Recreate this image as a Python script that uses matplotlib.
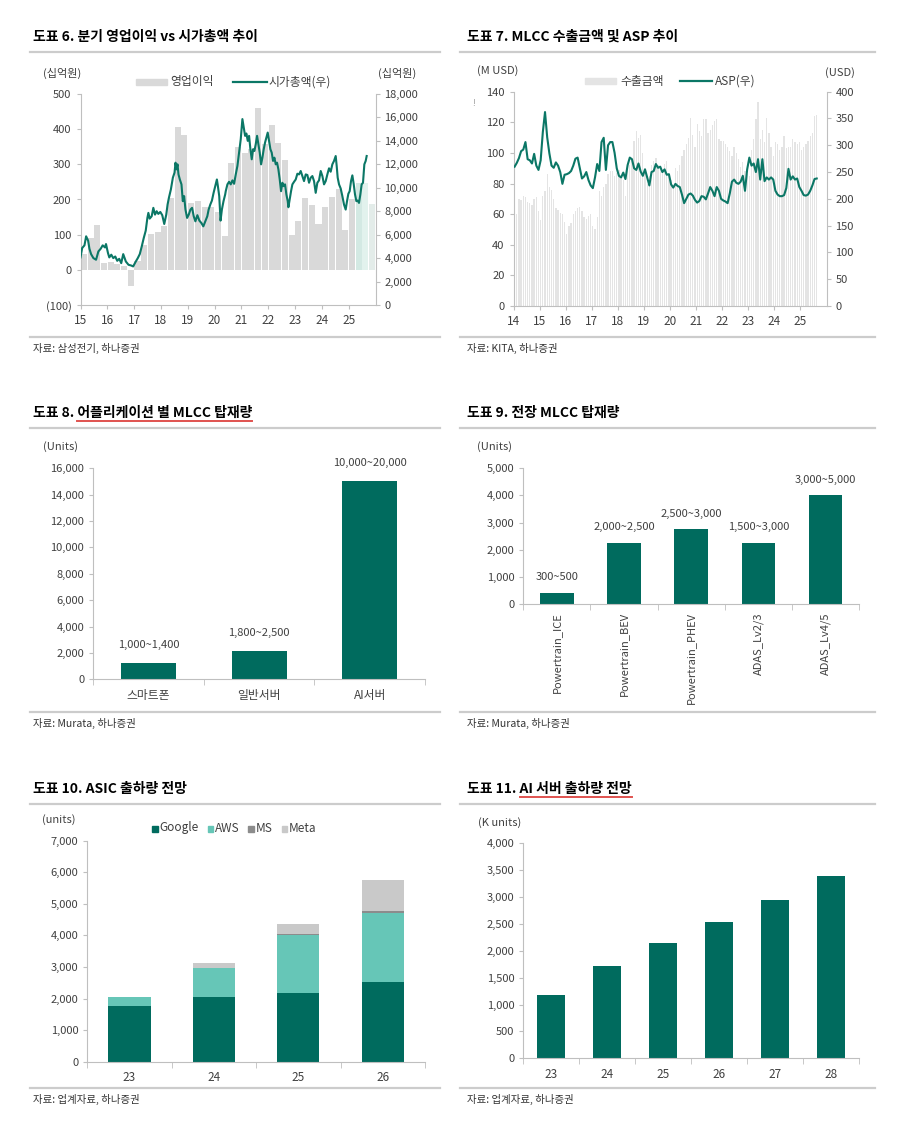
import matplotlib
matplotlib.use("Agg")
import matplotlib.pyplot as plt
from matplotlib.lines import Line2D
from matplotlib.patches import Rectangle
from matplotlib.ticker import FuncFormatter

plt.rcParams['font.family'] = ['Noto Sans CJK KR', 'DejaVu Sans']

# ---------------- data ----------------
# 도표 6: 분기 영업이익 (1Q15 ~ 4Q25, 십억원)
op_profit = [45, 90, 127, 20,
             22, 16, 12, -47,
             25, 70, 103, 107,
             125, 205, 405, 384,
             190, 197, 180, 178,
             165, 95, 303, 350,
             331, 345, 459, 359,
             411, 360, 311, 100,
             138, 205, 183, 131,
             179, 208, 230, 113,
             200, 246, 246, 188]
op_first_year = 15

# 시가총액 (십억원), x = 연도(2자리) 소수
mcap_x = [15.000, 15.062, 15.148, 15.210, 15.284, 15.333, 15.395, 15.481, 15.580, 15.667,
          15.753, 15.827, 15.914, 15.951, 16.025, 16.074, 16.148, 16.222, 16.296, 16.370,
          16.444, 16.519, 16.593, 16.667, 16.691, 16.790, 16.889, 16.963, 17.062, 17.136,
          17.210, 17.284, 17.358, 17.432, 17.494, 17.531, 17.580, 17.654, 17.716, 17.778,
          17.840, 17.901, 17.975, 18.049, 18.123, 18.198, 18.247, 18.296, 18.370, 18.444,
          18.506, 18.543, 18.580, 18.617, 18.654, 18.704, 18.765, 18.815, 18.864, 18.914,
          18.975, 19.037, 19.099, 19.160, 19.222, 19.284, 19.358, 19.432, 19.506, 19.580,
          19.654, 19.728, 19.778, 19.840, 19.901, 19.963, 20.025, 20.086, 20.123, 20.173,
          20.222, 20.272, 20.333, 20.395, 20.416, 20.478, 20.540, 20.602, 20.665, 20.727,
          20.789, 20.851, 20.913, 20.975, 21.037, 21.087, 21.137, 21.186, 21.236, 21.286,
          21.335, 21.385, 21.435, 21.484, 21.534, 21.584, 21.634, 21.683, 21.733, 21.783,
          21.832, 21.882, 21.932, 21.981, 22.031, 22.081, 22.130, 22.180, 22.230, 22.280,
          22.329, 22.379, 22.429, 22.478, 22.528, 22.578, 22.627, 22.677, 22.727, 22.752,
          22.801, 22.851, 22.901, 22.963, 23.025, 23.087, 23.149, 23.211, 23.273, 23.335,
          23.398, 23.460, 23.522, 23.584, 23.646, 23.708, 23.770, 23.832, 23.894, 23.957,
          24.019, 24.081, 24.143, 24.205, 24.267, 24.329, 24.391, 24.453, 24.516, 24.553,
          24.590, 24.640, 24.702, 24.764, 24.826, 24.888, 24.938, 24.988, 25.037, 25.087,
          25.137, 25.186, 25.236, 25.286, 25.335, 25.385, 25.435, 25.484, 25.534, 25.584,
          25.634, 25.671]
mcap_val = [4060, 4860, 5090, 5860, 5490, 4800, 4340, 4000, 3860, 4570,
            4800, 5090, 4910, 5200, 4430, 4060, 4290, 4000, 4140, 3770,
            3940, 3570, 4340, 3860, 3710, 3430, 3370, 3290, 3710, 4000,
            4340, 5000, 5710, 6340, 7430, 7860, 7370, 7570, 8290, 7710,
            8000, 7770, 7940, 7660, 6910, 7710, 8570, 9140, 9860, 10860,
            11290, 12140, 11570, 12000, 11140, 10710, 10290, 8860, 9290, 8140,
            7430, 7710, 8140, 8290, 7570, 7140, 7660, 7200, 7000, 6710,
            7140, 7570, 8140, 8570, 8910, 9570, 10140, 10710, 10140, 9290,
            7200, 8140, 8860, 9430, 9710, 10290, 10510, 10290, 10630, 10340,
            11140, 11860, 13000, 14140, 15860, 15140, 14430, 14630, 14000, 14430,
            13290, 12430, 13290, 13140, 13710, 14430, 13710, 13000, 12000, 12570,
            13290, 13860, 14290, 14710, 14000, 13290, 13000, 12290, 12570, 12000,
            12140, 11570, 10710, 9710, 10430, 10140, 10290, 9430, 8860, 8340,
            9000, 9710, 10290, 10510, 10710, 11200, 11140, 11430, 11000, 10570,
            11140, 11090, 10430, 10860, 11000, 10570, 9570, 10430, 10630, 11430,
            11000, 10290, 10570, 11140, 11660, 11370, 12000, 12290, 12710, 11860,
            10860, 10290, 9940, 9290, 8570, 8140, 8860, 9490, 9710, 10570,
            11060, 10340, 9430, 8860, 8910, 8710, 9430, 10290, 10430, 12000,
            12290, 12710]
year_labels_6 = ['15', '16', '17', '18', '19', '20', '21', '22', '23', '24', '25']

# 도표 7: 월별 MLCC 수출금액 (M USD) / ASP (USD), 2014.01 ~ 2025.08
export_first_year = 14
export_musd = [60, 60, 70, 69, 72, 71, 68, 67, 66, 70, 71, 62,
               56, 72, 75, 86, 78, 76, 70, 64, 63, 61, 60, 55,
               47, 52, 54, 60, 62, 64, 65, 62, 58, 57, 59, 60,
               52, 50, 58, 75, 72, 78, 80, 86, 88, 88, 85, 87,
               89, 84, 82, 72, 88, 92, 95, 108, 114, 110, 112, 100,
               90, 80, 85, 92, 95, 97, 92, 90, 88, 93, 95, 86,
               82, 78, 90, 88, 92, 98, 102, 106, 110, 123, 112, 104,
               119, 114, 111, 122, 122, 113, 115, 118, 121, 122, 109, 108,
               108, 106, 104, 101, 98, 104, 100, 96, 91, 94, 88, 86,
               85, 102, 109, 122, 133, 109, 115, 107, 123, 113, 104, 98,
               107, 106, 102, 104, 111, 103, 104, 104, 109, 107, 106, 107,
               102, 104, 106, 108, 111, 113, 124, 125]
asp_usd = [260, 267, 276, 289, 292, 306, 274, 272, 266, 284, 262, 254,
           272, 325, 362, 315, 285, 262, 258, 268, 262, 250, 228, 245,
           246, 248, 252, 262, 275, 277, 257, 238, 242, 250, 235, 225,
           220, 240, 265, 252, 306, 314, 254, 300, 306, 306, 286, 257,
           243, 240, 249, 237, 263, 277, 274, 257, 254, 266, 251, 243,
           255, 240, 225, 250, 252, 265, 258, 260, 250, 255, 245, 246,
           227, 221, 228, 224, 222, 208, 192, 200, 208, 210, 206, 198,
           193, 196, 205, 204, 199, 210, 222, 215, 205, 222, 215, 200,
           197, 195, 192, 210, 232, 236, 230, 228, 232, 243, 215, 255,
           277, 262, 266, 250, 274, 236, 274, 233, 240, 236, 240, 236,
           215, 208, 205, 205, 207, 220, 256, 236, 242, 236, 238, 222,
           215, 207, 206, 208, 215, 225, 237, 238]
year_labels_7 = ['14', '15', '16', '17', '18', '19', '20', '21', '22', '23', '24', '25']

# 도표 8
app_names = ['스마트폰', '일반서버', 'AI서버']
app_units = [1200, 2150, 15000]
app_ranges = ['1,000~1,400', '1,800~2,500', '10,000~20,000']

# 도표 9
auto_names = ['Powertrain_ICE', 'Powertrain_BEV', 'Powertrain_PHEV', 'ADAS_Lv2/3', 'ADAS_Lv4/5']
auto_units = [400, 2250, 2750, 2250, 4000]
auto_ranges = ['300~500', '2,000~2,500', '2,500~3,000', '1,500~3,000', '3,000~5,000']

# 도표 10
asic_years = ['23', '24', '25', '26']
asic_google = [1760, 2040, 2190, 2510]
asic_aws = [290, 940, 1820, 2190]
asic_ms = [0, 0, 30, 70]
asic_meta = [0, 150, 330, 980]

# 도표 11
server_years = ['23', '24', '25', '26', '27', '28']
server_kunits = [1180, 1720, 2150, 2530, 2940, 3400]

# ---------------- style ----------------
TEAL = '#006b5e'
LINE = '#0b7766'
GRAY_BAR = '#d9d9d9'
LIGHT_BAR = '#e4e4e4'
SPINE = '#bfbfbf'
TXT = '#404040'
RULE = '#cccccc'

W, H = 900, 1143
fig = plt.figure(figsize=(W / 100, H / 100), dpi=100)
comma = FuncFormatter(lambda v, p: f'{v:,.0f}')


def add_ax(x0, y0, x1, y1):
    return fig.add_axes([x0 / W, 1 - y1 / H, (x1 - x0) / W, (y1 - y0) / H])


def ftext(x, y, s, **kw):
    kw.setdefault('fontsize', 8)
    kw.setdefault('color', TXT)
    kw.setdefault('va', 'center')
    return fig.text(x / W, 1 - y / H, s, **kw)


def hline(x0, x1, y, color=RULE, lw=1.6):
    fig.add_artist(Line2D([x0 / W, x1 / W], [1 - y / H] * 2, color=color, lw=lw))


def header(x, y, prefix, title, rule_x, underline=False):
    t = ftext(x, y, prefix + title, fontsize=10, fontweight='bold', color='black')
    hline(rule_x[0], rule_x[1], y + 15)
    if underline:
        r = fig.canvas.get_renderer()
        p = ftext(x, y, prefix, fontsize=10, fontweight='bold', alpha=0)
        x0 = p.get_window_extent(r).x1
        x1 = t.get_window_extent(r).x1
        hline(x0, x1, y + 8, color='#e0524f', lw=1.4)


def footer(x, y, text, rule_x):
    hline(rule_x[0], rule_x[1], y - 11)
    ftext(x, y, text, fontsize=7.5, color='#333333')


def style(ax):
    for s in ['top', 'right']:
        ax.spines[s].set_visible(False)
    for s in ['left', 'bottom']:
        ax.spines[s].set_color(SPINE)
    ax.tick_params(colors=SPINE, labelcolor=TXT, labelsize=8, length=3, width=0.8)
    ax.set_facecolor('none')


def legend_patch(x0, x1, y, h, color):
    fig.add_artist(Rectangle((x0 / W, 1 - (y + h / 2) / H), (x1 - x0) / W, h / H,
                             color=color, transform=fig.transFigure))


def legend_line(x0, x1, y, color):
    fig.add_artist(Line2D([x0 / W, x1 / W], [1 - y / H] * 2, color=color, lw=1.6))


LEFT = (30, 440)
RIGHT = (460, 875)

# ---------------- 도표 6 ----------------
header(33, 37, '도표 6. ', '분기 영업이익 vs 시가총액 추이', LEFT)
ax = add_ax(80.5, 94, 375.5, 305)
style(ax)
op_x = [op_first_year + i * 0.25 + 0.125 for i in range(len(op_profit))]
op_colors = [GRAY_BAR] * (len(op_profit) - 3) + ['#d3e9e3', '#e2f2ed', '#e3ece9']
ax.bar(op_x, op_profit, width=0.225, color=op_colors, zorder=1)
ax.set_xlim(15, 26)
ax.set_ylim(-100, 500)
ax.set_yticks(range(-100, 501, 100))
ax.yaxis.set_major_formatter(FuncFormatter(lambda v, p: f'({abs(v):.0f})' if v < 0 else f'{v:.0f}'))
ax.set_xticks(range(15, 15 + len(year_labels_6)))
ax.set_xticklabels(year_labels_6, fontsize=8.5)
ax2 = ax.twinx()
for s in ['top', 'left', 'bottom']:
    ax2.spines[s].set_visible(False)
ax2.spines['right'].set_color(SPINE)
ax2.tick_params(colors=SPINE, labelcolor=TXT, labelsize=8, length=3, width=0.8)
ax2.plot(mcap_x, mcap_val, color=LINE, lw=1.5)
ax2.set_ylim(0, 18000)
ax2.set_yticks(range(0, 18001, 2000))
ax2.yaxis.set_major_formatter(comma)
ftext(43, 73, '(십억원)')
ftext(378, 73, '(십억원)')
legend_patch(136, 167, 82, 6, GRAY_BAR)
ftext(170, 82, '영업이익', fontsize=8.5)
legend_line(233, 267, 82, LINE)
ftext(268, 82, '시가총액(우)', fontsize=8.5)
footer(33, 348, '자료: 삼성전기, 하나증권', LEFT)

# ---------------- 도표 7 ----------------
header(467, 37, '도표 7. ', 'MLCC 수출금액 및 ASP 추이', RIGHT)
ax = add_ax(513.5, 91.7, 826.5, 306)
style(ax)
ex_x = [export_first_year + (i + 0.5) / 12 for i in range(len(export_musd))]
ax.bar(ex_x, export_musd, width=0.6 / 12, color=LIGHT_BAR, zorder=1)
ax.set_xlim(14, 26)
ax.set_ylim(0, 140)
ax.set_yticks(range(0, 141, 20))
ax.set_xticks(range(14, 14 + len(year_labels_7)))
ax.set_xticklabels(year_labels_7, fontsize=8.5)
ax2 = ax.twinx()
for s in ['top', 'left', 'bottom']:
    ax2.spines[s].set_visible(False)
ax2.spines['right'].set_color(SPINE)
ax2.tick_params(colors=SPINE, labelcolor=TXT, labelsize=8, length=3, width=0.8)
ax2.plot(ex_x, asp_usd, color=LINE, lw=1.5)
ax2.set_ylim(0, 400)
ax2.set_yticks(range(0, 401, 50))
ftext(477, 71, '(M USD)')
ftext(825, 73, '(USD)')
ftext(472, 104, '!', fontsize=6, color='#888888')
legend_patch(585, 616, 81, 6, LIGHT_BAR)
ftext(620, 81, '수출금액', fontsize=8.5)
legend_line(680, 712, 81, LINE)
ftext(715, 81, 'ASP(우)', fontsize=8.5)
footer(467, 348, '자료: KITA, 하나증권', RIGHT)

# ---------------- 도표 8 ----------------
header(33, 413, '도표 8. ', '어플리케이션 별 MLCC 탑재량', LEFT, underline=True)
ax = add_ax(93.3, 468.3, 425, 679.3)
style(ax)
ax.bar(range(len(app_units)), app_units, width=0.5, color=TEAL)
for i, (v, lbl) in enumerate(zip(app_units, app_ranges)):
    ax.annotate(lbl, (i, v), xytext=(0, 13), textcoords='offset points', ha='center',
                va='center', fontsize=8, color=TXT, annotation_clip=False)
ax.set_xlim(-0.5, len(app_units) - 0.5)
ax.set_ylim(0, 16000)
ax.set_yticks(range(0, 16001, 2000))
ax.yaxis.set_major_formatter(comma)
ax.set_xticks(range(len(app_names)))
ax.set_xticklabels(app_names, fontsize=8.5)
ax.set_xticks([i - 0.5 for i in range(len(app_names) + 1)], minor=True)
ax.tick_params(axis='x', which='major', length=0, pad=7)
ax.tick_params(axis='x', which='minor', length=4, color=SPINE)
ftext(43, 447, '(Units)')
footer(33, 723, '자료: Murata, 하나증권', LEFT)

# ---------------- 도표 9 ----------------
header(467, 413, '도표 9. ', '전장 MLCC 탑재량', RIGHT)
ax = add_ax(523.3, 468.3, 859, 604)
style(ax)
ax.bar(range(len(auto_units)), auto_units, width=0.5, color=TEAL)
for i, (v, lbl) in enumerate(zip(auto_units, auto_ranges)):
    ax.annotate(lbl, (i, v), xytext=(0, 11.3), textcoords='offset points', ha='center',
                va='center', fontsize=8, color=TXT, annotation_clip=False)
ax.set_xlim(-0.5, len(auto_units) - 0.5)
ax.set_ylim(0, 5000)
ax.set_yticks(range(0, 5001, 1000))
ax.yaxis.set_major_formatter(comma)
ax.set_xticks(range(len(auto_names)))
ax.set_xticklabels(auto_names, rotation=90, fontsize=8)
ax.set_xticks([i - 0.5 for i in range(len(auto_names) + 1)], minor=True)
ax.tick_params(axis='x', which='major', length=0, pad=6)
ax.tick_params(axis='x', which='minor', length=4, color=SPINE)
ftext(477, 447, '(Units)')
footer(467, 723, '자료: Murata, 하나증권', RIGHT)

# ---------------- 도표 10 ----------------
header(33, 789, '도표 10. ', 'ASIC 출하량 전망', LEFT)
ax = add_ax(87.3, 840.7, 425, 1061.7)
style(ax)
pos = range(len(asic_years))
b1 = [g + a for g, a in zip(asic_google, asic_aws)]
b2 = [b + m for b, m in zip(b1, asic_ms)]
ax.bar(pos, asic_google, width=0.5, color=TEAL)
ax.bar(pos, asic_aws, width=0.5, bottom=asic_google, color='#66c6b7')
ax.bar(pos, asic_ms, width=0.5, bottom=b1, color='#8c8c8c')
ax.bar(pos, asic_meta, width=0.5, bottom=b2, color='#c9c9c9')
ax.set_xlim(-0.5, len(asic_years) - 0.5)
ax.set_ylim(0, 7000)
ax.set_yticks(range(0, 7001, 1000))
ax.yaxis.set_major_formatter(comma)
ax.set_xticks(list(pos))
ax.set_xticklabels(asic_years, fontsize=8.5)
ax.set_xticks([i - 0.5 for i in range(len(asic_years) + 1)], minor=True)
ax.tick_params(axis='x', which='major', length=0, pad=7)
ax.tick_params(axis='x', which='minor', length=4, color=SPINE)
ftext(42, 820, '(units)')
for x0, color, name in [(152, TEAL, 'Google'), (207.5, '#66c6b7', 'AWS'),
                        (248.5, '#8c8c8c', 'MS'), (281.5, '#c9c9c9', 'Meta')]:
    legend_patch(x0, x0 + 5.5, 829, 5.5, color)
    ftext(x0 + 7, 828, name, fontsize=8.5)
footer(33, 1099, '자료: 업계자료, 하나증권', LEFT)

# ---------------- 도표 11 ----------------
header(467, 789, '도표 11. ', 'AI 서버 출하량 전망', RIGHT, underline=True)
ax = add_ax(523.3, 843.3, 859.3, 1058.3)
style(ax)
ax.bar(range(len(server_kunits)), server_kunits, width=0.5, color=TEAL)
ax.set_xlim(-0.5, len(server_kunits) - 0.5)
ax.set_ylim(0, 4000)
ax.set_yticks(range(0, 4001, 500))
ax.yaxis.set_major_formatter(comma)
ax.set_xticks(range(len(server_years)))
ax.set_xticklabels(server_years, fontsize=8.5)
ax.set_xticks([i - 0.5 for i in range(len(server_years) + 1)], minor=True)
ax.tick_params(axis='x', which='major', length=0, pad=7)
ax.tick_params(axis='x', which='minor', length=4, color=SPINE)
ftext(478, 823, '(K units)')
footer(467, 1099, '자료: 업계자료, 하나증권', RIGHT)

fig.savefig('out.png', dpi=100, facecolor='white')
